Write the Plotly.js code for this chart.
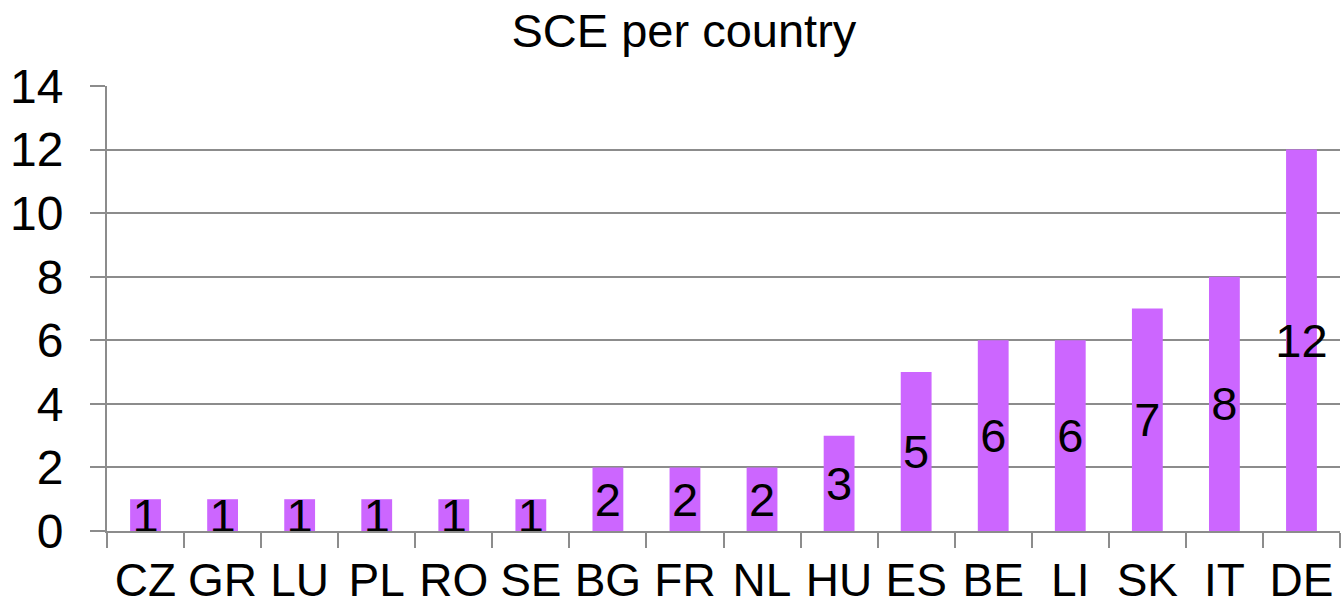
<!DOCTYPE html>
<html>
<head>
<meta charset="utf-8">
<script src="https://cdn.plot.ly/plotly-3.0.1.min.js"></script>
<style>html,body{margin:0;padding:0;background:#fff;}#chart{width:1341px;height:607px;}</style>
</head>
<body>
<div id="chart"></div>
<script>
const countries = ["CZ","GR","LU","PL","RO","SE","BG","FR","NL","HU","ES","BE","LI","SK","IT","DE"];
const sceCounts = [1,1,1,1,1,1,2,2,2,3,5,6,6,7,8,12];
const yTicks = [0,2,4,6,8,10,12,14];

const fontFam = "Liberation Sans, Arial, sans-serif";
const trace = {
  type: "bar",
  x: countries,
  y: sceCounts,
  text: sceCounts.map(String),
  textposition: "inside",
  insidetextanchor: "middle",
  constraintext: "none",
  textangle: 0,
  textfont: {family: fontFam, size: 47, color: "#000"},
  marker: {color: "#CC66FF", line: {width: 0}},
  hoverinfo: "skip"
};
const layout = {
  width: 1341, height: 607,
  margin: {l: 107, r: 1, t: 86, b: 76},
  paper_bgcolor: "#fff", plot_bgcolor: "#fff",
  bargap: 0.6,
  showlegend: false,
  title: {text: "SCE per country", font: {family: fontFam, size: 47, color: "#000"},
          x: 0.51, xref: "container", xanchor: "center", y: 0.95, yref: "container", yanchor: "middle"},
  font: {family: fontFam, color: "#000"},
  xaxis: {
    type: "category",
    showline: true, linecolor: "#8c8c8c", linewidth: 2,
    ticks: "outside", tickson: "boundaries", ticklen: 15, tickcolor: "#8c8c8c", tickwidth: 2,
    tickfont: {family: fontFam, size: 46, color: "#000"},
    tickangle: 0,
    ticklabelstandoff: 8,
    showgrid: false, zeroline: false, automargin: false
  },
  yaxis: {
    range: [0, 14], tickvals: yTicks, ticktext: yTicks.map(String),
    showline: true, linecolor: "#8c8c8c", linewidth: 2,
    ticks: "outside", ticklen: 15, tickcolor: "#8c8c8c", tickwidth: 2,
    showgrid: true, gridcolor: "#8c8c8c", gridwidth: 2,
    zeroline: false,
    tickfont: {family: fontFam, size: 48, color: "#000"},
    ticklabelstandoff: 17,
    automargin: false
  }
};
Plotly.newPlot("chart", [trace], layout, {staticPlot: true, displayModeBar: false});
</script>
</body>
</html>
